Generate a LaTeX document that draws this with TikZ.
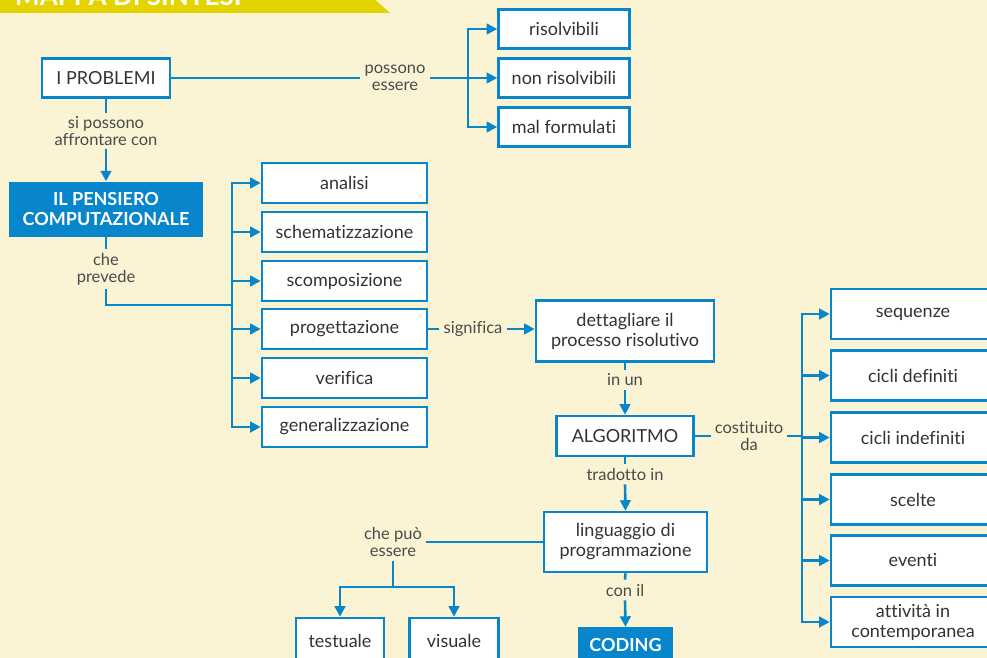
\documentclass[tikz,border=0pt]{standalone}
\usepackage{fontspec}
\setmainfont{Lato}[Ligatures={NoCommon}]
\usetikzlibrary{arrows.meta}
\definecolor{bgc}{HTML}{FAF4D5}
\definecolor{myblue}{HTML}{0786CC}
\definecolor{ban}{HTML}{E5D300}
\definecolor{txt}{HTML}{333333}
\definecolor{lbltxt}{HTML}{4A4A4A}
\newcommand\boxfont{\fontsize{18}{20}\selectfont}
\newcommand\lblfont{\fontsize{16.5}{17}\selectfont}
\tikzset{
  box/.style={draw=myblue, line width=2.6pt, fill=white, text=txt, font=\boxfont, inner sep=0pt, align=center},
  bluebox/.style={fill=myblue, text=white, font=\boxfont\bfseries, inner sep=0pt, align=center},
  lbl/.style={text=lbltxt, font=\lblfont, align=center, inner sep=4pt},
  conn/.style={draw=myblue, line width=2.6pt},
  arr/.style={conn, -{Triangle[length=10.5pt,width=10.5pt]}}
}
\begin{document}
\begin{tikzpicture}[x=1pt,y=-1pt]
\useasboundingbox (0,0) rectangle (987,658);
\clip (0,0) rectangle (987,658);
\fill[bgc] (0,0) rectangle (987,658);
% banner
\fill[ban] (0,-5) -- (370,-5) -- (390,13) -- (0,13) -- cycle;
\begin{scope}
\clip (0,-5) -- (370,-5) -- (390,13) -- (0,13) -- cycle;
\node[anchor=base west, text=white, font=\fontsize{26}{28}\selectfont\bfseries, inner sep=0pt] (title) at (15,6) {MAPPA DI SINTESI};
\end{scope}
% top part
\node[box, minimum width=128pt, minimum height=39pt] (prob) at (106,78) {I PROBLEMI};
\node[box, minimum width=131pt, minimum height=39pt] (ris) at (564,29) {risolvibili};
\node[box, minimum width=131pt, minimum height=39pt] (nris) at (564,78) {non risolvibili};
\node[box, minimum width=131pt, minimum height=39pt] (malf) at (564,127) {mal formulati};
\node[lbl] (poss) at (395,78) {possono\\essere};
\coordinate (b1) at (468,78);
\draw[conn] (prob.east) -- (poss.west);
\draw[conn] (poss.east) -- (b1);
\draw[arr] (b1) |- (ris.west);
\draw[arr] (b1) -- (nris.west);
\draw[arr] (b1) |- (malf.west);
% pensiero
\node[lbl, inner sep=3pt] (sip) at (106,131) {si possono\\affrontare con};
\node[bluebox, minimum width=194pt, minimum height=55pt] (pens) at (106,209) {IL PENSIERO\\COMPUTAZIONALE};
\draw[conn] (prob.south) -- (sip.north);
\draw[arr] (sip.south) -- (pens.north);
\node[lbl] (prev) at (106,269) {che\\prevede};
\coordinate (b2) at (232,305);
\draw[conn] (pens.south) -- (prev.north);
\draw[conn] (prev.south) |- (b2);
\foreach \n/\y/\t in {an/183/analisi, sch/232/schematizzazione, sco/281/scomposizione, prog/329/progettazione, ver/378/verifica, gen/427/generalizzazione}{
  \node[box, minimum width=165pt, minimum height=40pt] (\n) at (344.5,\y) {\t};
  \draw[arr] (b2) |- (\n.west);
}
% middle column
\node[lbl] (sig) at (473,329) {significa};
\node[box, minimum width=178pt, minimum height=61pt] (dett) at (625,331) {dettagliare il\\processo risolutivo};
\draw[conn] (prog.east) -- (sig.west);
\draw[arr] (sig.east) -- (sig.east -| dett.west);
\node[lbl] (inun) at (625,380) {in un};
\node[box, minimum width=137pt, minimum height=40pt] (alg) at (625,436) {ALGORITMO};
\draw[conn] (dett.south) -- (inun.north);
\draw[arr] (inun.south) -- (alg.north);
\node[lbl] (trad) at (625,474) {tradotto in};
\node[box, minimum width=163pt, minimum height=60pt] (ling) at (625.5,542) {linguaggio di\\programmazione};
\draw[conn] (alg.south) -- (trad.north);
\draw[arr] (trad.south) -- (ling.north);
\node[lbl] (conil) at (625,590) {con il};
\node[bluebox, minimum width=95pt, minimum height=36pt] (cod) at (625.5,645) {CODING};
\draw[conn] (ling.south) -- (conil.north);
\draw[arr] (conil.south) -- (cod.north);
% che può essere
\node[lbl] (puo) at (393,542) {che può\\essere};
\coordinate (b4) at (393,587);
\node[box, minimum width=88pt, minimum height=46pt] (test) at (340,641) {testuale};
\node[box, minimum width=89pt, minimum height=46pt] (vis) at (454,641) {visuale};
\draw[conn] (ling.west) -- (puo.east);
\draw[conn] (puo.south) -- (b4);
\draw[arr] (b4) -| (test.north);
\draw[arr] (b4) -| (vis.north);
% costituito da
\node[lbl] (cost) at (749,436) {costituito\\da};
\coordinate (b3) at (802,436);
\draw[conn] (alg.east) -- (cost.west);
\draw[conn] (cost.east) -- (b3);
\foreach \n/\y/\t in {seq/314/sequenze, cd/375.5/cicli definiti, ci/437.5/cicli indefiniti, sce/499.5/scelte, ev/560.5/eventi, att/622/{attività in\\contemporanea}}{
  \node[box, minimum width=164pt, minimum height=50pt] (\n) at (913,\y) {\t};
  \draw[arr] (b3) |- (\n.west);
}
\end{tikzpicture}
\end{document}
